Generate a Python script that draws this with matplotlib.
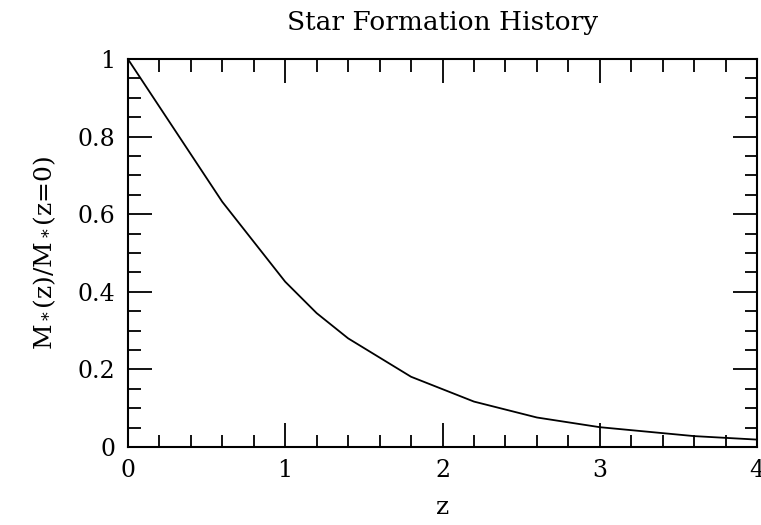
import matplotlib
matplotlib.use("Agg")
import matplotlib.pyplot as plt
from matplotlib.ticker import MultipleLocator

# values
z = [0.0, 0.6, 1.0, 1.2, 1.4, 1.8, 2.2, 2.6, 3.0, 3.6, 4.0]
mass_frac = [1.0, 0.632, 0.426, 0.345, 0.280, 0.181, 0.117, 0.076, 0.051, 0.028, 0.019]

plt.rcParams['font.family'] = 'DejaVu Serif'
plt.rcParams['mathtext.fontset'] = 'dejavuserif'

fig = plt.figure(figsize=(7.61, 5.25), dpi=100)
ax = fig.add_axes([0.168, 0.1486, 0.827, 0.739])

ax.plot(z, mass_frac, color='black', linewidth=1.3)

ax.set_xlim(0, 4)
ax.set_ylim(0, 1)

ax.xaxis.set_major_locator(MultipleLocator(1))
ax.xaxis.set_minor_locator(MultipleLocator(0.2))
ax.yaxis.set_major_locator(MultipleLocator(0.2))
ax.yaxis.set_minor_locator(MultipleLocator(0.05))
ax.yaxis.set_major_formatter(plt.FuncFormatter(lambda v, p: '%g' % round(v, 2)))
ax.xaxis.set_major_formatter(plt.FuncFormatter(lambda v, p: '%g' % v))

ax.tick_params(which='both', direction='in', top=True, right=True, width=1.3)
ax.tick_params(which='major', length=17, labelsize=17, pad=9)
ax.tick_params(which='minor', length=9)
for s in ax.spines.values():
    s.set_linewidth(1.5)

ax.set_title('Star Formation History', fontsize=19, pad=21)
ax.set_xlabel('z', fontsize=18, labelpad=10)
ax.set_ylabel(r'M$_*$(z)/M$_*$(z=0)', fontsize=18, labelpad=14)

fig.savefig('out.png', dpi=100)
